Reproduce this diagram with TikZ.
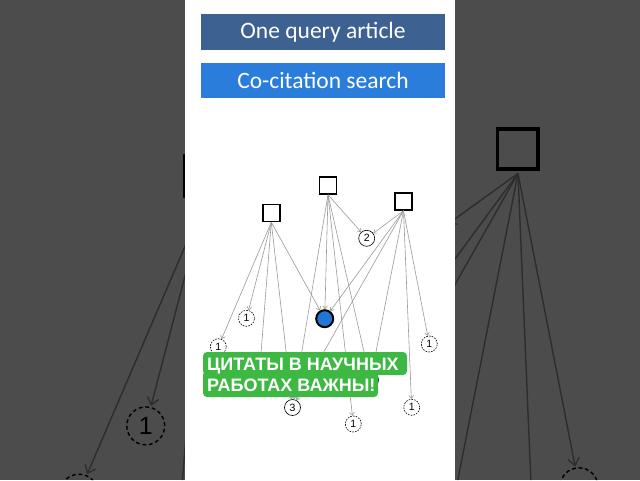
\documentclass[tikz,border=0pt]{standalone}
\usepackage{fontspec}
\setmainfont{Carlito}
\newfontfamily\banfont{Liberation Sans}
\newfontfamily\numfont{Liberation Sans}
\usetikzlibrary{arrows.meta}
\definecolor{edgegray}{HTML}{9A9A9A}
\definecolor{darkbox}{HTML}{3D6190}
\definecolor{brightbox}{HTML}{2A7DDB}
\definecolor{qblue}{HTML}{2277D6}
\definecolor{bannergreen}{HTML}{3DB843}
\def\gLW{1}\def\gDon{1.6pt}\def\gDoff{1.2pt}
\def\nlab#1{#1}
\def\nolab#1{}
\tikzset{
 sq/.style={draw=black, fill=white, minimum size=17pt, inner sep=0pt, line width=\gLW*1.5pt},
 cnode/.style={circle, draw=black, fill=white, minimum size=16pt, inner sep=0pt, line width=\gLW*0.6pt, font=\numfont\fontsize{10.5}{10.5}\selectfont},
 dnode/.style={cnode, dash pattern=on \gDon off \gDoff},
 qnode/.style={circle, draw=black, fill=qblue, minimum size=17pt, inner sep=0pt, line width=\gLW*2pt},
 edge/.style={draw=edgegray, line width=\gLW*0.6pt, -{Straight Barb[length=0pt 5, width=0pt 8]}},
 titlebox/.style={minimum width=244pt, text=white, inner sep=0pt, font=\fontsize{23.5}{23.5}\selectfont},
}
\newcommand\drawgraph{%
 \node[sq] (A) at (271.3,213) {};
 \node[sq] (B) at (328,185.5) {};
 \node[sq] (C) at (403.5,201.5) {};
 \node[qnode] (Q) at (324.7,318.7) {};
 \node[cnode] (n2) at (366.7,238.3) {\nlab{2}};
 \node[dnode] (d1) at (218.3,346.7) {\nlab{1}};
 \node[dnode] (d2) at (246.5,318.3) {1};
 \node[dnode] (h1) at (258.5,385) {};
 \node[cnode] (n3) at (292.5,407.5) {\nlab{3}};
 \node[cnode] (h2) at (370.5,380) {};
 \node[dnode] (d3) at (353.3,424) {\nlab{1}};
 \node[dnode] (d4) at (411.7,407.3) {\nlab{1}};
 \node[dnode] (d5) at (429.3,344) {\nlab{1}};
 \draw[edge] (A.south) -- (d1);
 \draw[edge] (A.south) -- (d2);
 \draw[edge] (A.south) -- (h1);
 \draw[edge] (A.south) -- (n3);
 \draw[edge] (A.south) -- (Q);
 \draw[edge] (B.south) -- (n3);
 \draw[edge] (B.south) -- (Q);
 \draw[edge] (B.south) -- (d3);
 \draw[edge] (B.south) -- (h2);
 \draw[edge] (B.south) -- (n2);
 \draw[edge] (C.south) -- (n2);
 \draw[edge] (C.south) -- (Q);
 \draw[edge] (C.south) -- (n3);
 \draw[edge] (C.south) -- (h2);
 \draw[edge] (C.south) -- (d4);
 \draw[edge] (C.south) -- (d5);
}
\begin{document}
\begin{tikzpicture}[x=1pt,y=-1pt]
\useasboundingbox (0,0) rectangle (640,480);
% blurred, magnified copy in the side panels
\begin{scope}
 \clip (0,0) rectangle (185,480) (455,0) rectangle (640,480);
 \fill[white] (0,0) rectangle (640,480);
 \begin{scope}[xshift=-438.45pt, yshift=328.5pt, scale=2.37, transform shape]
  \def\gLW{2.37}\def\gDon{3.8pt}\def\gDoff{2.8pt}
  \let\nlab\nolab
  \drawgraph
 \end{scope}
 \fill[black, opacity=0.7] (0,0) rectangle (640,480);
\end{scope}
% central panel
\fill[white] (185,0) rectangle (455,480);
\node[titlebox, fill=darkbox, minimum height=36pt] (t1) at (323,32) {One query article};
\node[titlebox, fill=brightbox, minimum height=35pt] (t2) at (323,80.5) {Co-citation search};
\drawgraph
% caption banner
\fill[bannergreen, rounded corners=4pt] (203,352) rectangle (407,375);
\fill[bannergreen, rounded corners=4pt] (203,371) rectangle (378,397);
\node[anchor=base west, inner sep=0pt, text=white, font=\banfont\bfseries\fontsize{18}{18}\selectfont] (ban1) at (207,370) {ЦИТАТЫ В НАУЧНЫХ};
\node[anchor=base west, inner sep=0pt, text=white, font=\banfont\bfseries\fontsize{18}{18}\selectfont] (ban2) at (207,391.7) {РАБОТАХ ВАЖНЫ!};
\end{tikzpicture}
\end{document}
